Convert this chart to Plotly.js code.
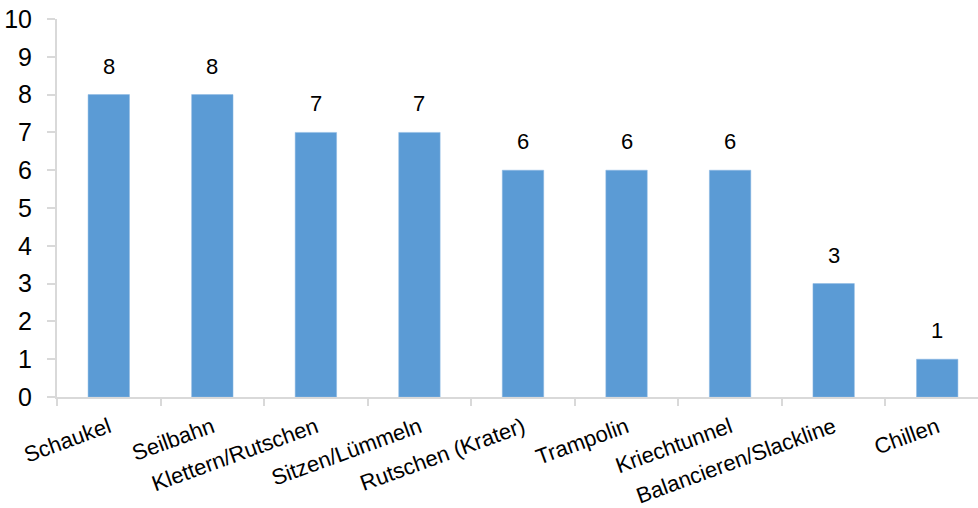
<!DOCTYPE html>
<html><head><meta charset="utf-8">
<script src="https://cdn.plot.ly/plotly-3.0.1.min.js"></script>
<style>html,body{margin:0;padding:0;background:#fff}#c{width:978px;height:508px}</style>
</head><body><div id="c"></div>
<script>
const categories = ["Schaukel","Seilbahn","Klettern/Rutschen","Sitzen/Lümmeln","Rutschen (Krater)","Trampolin","Kriechtunnel","Balancieren/Slackline","Chillen"];
const values = [8,8,7,7,6,6,6,3,1];
const yTicks = [0,1,2,3,4,5,6,7,8,9,10];

const FONT = "Liberation Sans, Arial, sans-serif";
const NARROW = "Liberation Sans Narrow, Arial Narrow, Liberation Sans, Arial, sans-serif";
const axisGray = "#d9d9d9";

const trace = {
  type: "bar",
  x: categories,
  y: values,
  width: 0.4,
  marker: {color: "#5b9bd5", line: {color: "#8db8e3", width: 0.5}},
  hoverinfo: "none"
};

const annotations = categories.map((c, i) => ({
  x: c, y: values[i], xref: "x", yref: "y",
  text: String(values[i]), showarrow: false,
  yanchor: "bottom", yshift: 14,
  font: {family: FONT, size: 22, color: "#000"}
}));

const layout = {
  width: 978, height: 508,
  margin: {l: 57, r: 0, t: 19, b: 111},
  paper_bgcolor: "#fff", plot_bgcolor: "#fff",
  showlegend: false,
  bargap: 0.6,
  xaxis: {
    type: "category",
    range: [-0.5, 8.394],
    showline: true, linecolor: axisGray, linewidth: 2,
    ticks: "outside", tickson: "boundaries", ticklen: 7, tickcolor: axisGray, tickwidth: 2,
    showgrid: false, zeroline: false,
    tickangle: -20,
    ticklabelstandoff: 7,
    tickfont: {family: FONT, size: 22, color: "#000"}
  },
  yaxis: {
    range: [0, 10],
    tickvals: yTicks, ticktext: yTicks.map(String),
    showline: true, linecolor: axisGray, linewidth: 2,
    ticks: "outside", ticklen: 8, tickcolor: axisGray, tickwidth: 2,
    showgrid: false, zeroline: false,
    ticklabelstandoff: 10,
    tickfont: {family: NARROW, size: 25, color: "#000"}
  },
  annotations: annotations
};

Plotly.newPlot("c", [trace], layout, {displayModeBar: false, staticPlot: true});
</script></body></html>
